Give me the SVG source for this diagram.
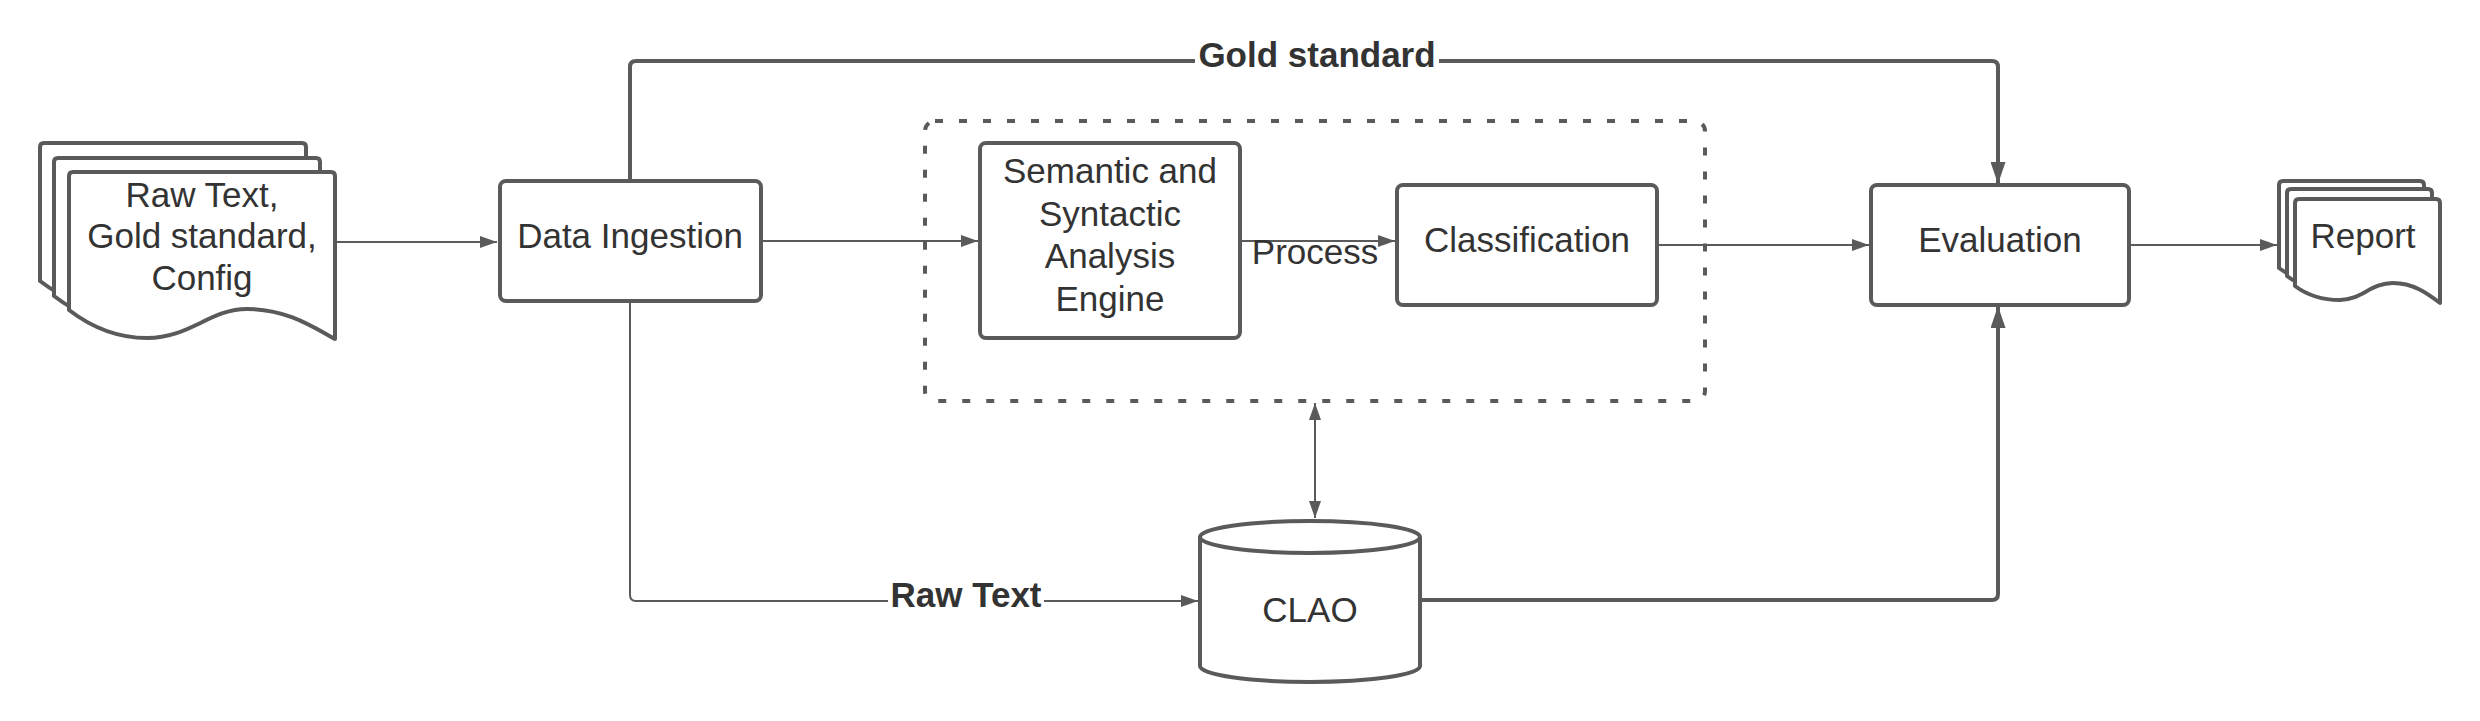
<svg xmlns="http://www.w3.org/2000/svg" width="2480" height="721" viewBox="0 0 2480 721">
<style>
.shape{fill:#ffffff;stroke:#5a5a5a;stroke-width:4;stroke-linejoin:round}
.dash{fill:none;stroke:#5a5a5a;stroke-width:4;stroke-dasharray:8 16}
.thin{fill:none;stroke:#5a5a5a;stroke-width:2}
.thick{fill:none;stroke:#5a5a5a;stroke-width:4}
.t{font-family:"Liberation Sans",Arial,sans-serif;font-size:35px;fill:#333333;text-anchor:middle}
.b{font-weight:bold}
</style>
<defs>
<marker id="ah" markerUnits="userSpaceOnUse" markerWidth="17" markerHeight="12" refX="17" refY="6" orient="auto-start-reverse">
<path d="M0,0 L17,6 L0,12 z" fill="#5a5a5a"/>
</marker>
<marker id="ahb" markerUnits="userSpaceOnUse" markerWidth="22" markerHeight="15" refX="22" refY="7.5" orient="auto">
<path d="M0,0 L22,7.5 L0,15 z" fill="#5a5a5a"/>
</marker>
<path id="doc" d="M0,4 Q0,0 4,0 H262 Q266,0 266,4 V167 C241,153 216,137 178,137 C141,137 121,166 78,166 C51,166 26,158 0,138 Z"/>
<path id="rdoc" d="M0,4 Q0,0 4,0 H141 Q145,0 145,4 V104 C132,94 118,84 98,84 C76,84 66,101 45,101 C27,101 12,96 0,87 Z"/>
</defs>

<g id="connectors">
<path class="thin" d="M335,242 H497" marker-end="url(#ah)"/>
<path class="thin" d="M761,241 H978" marker-end="url(#ah)"/>
<path class="thin" d="M1240,241 H1395" marker-end="url(#ah)"/>
<path class="thin" d="M1657,245 H1869" marker-end="url(#ah)"/>
<path class="thin" d="M2129,245 H2277" marker-end="url(#ah)"/>
<path class="thick" d="M630,181 V67 Q630,61 636,61 H1992 Q1998,61 1998,67 V184" marker-end="url(#ahb)"/>
<path class="thin" d="M630,301 V595 Q630,601 636,601 H1198" marker-end="url(#ah)"/>
<path class="thin" d="M1315,403 V518" marker-start="url(#ah)" marker-end="url(#ah)"/>
<path class="thick" d="M1420,600 H1992 Q1998,600 1998,594 V306" marker-end="url(#ahb)"/>
<rect x="1195" y="38" width="244" height="36" fill="#ffffff"/>
<text class="t b" x="1317" y="67">Gold standard</text>
<rect x="888" y="580" width="156" height="36" fill="#ffffff"/>
<text class="t b" x="966" y="607">Raw Text</text>
<text class="t" x="1315" y="264">Process</text>
</g>

<g id="input-docs">
<use href="#doc" class="shape" transform="translate(40,143)"/>
<use href="#doc" class="shape" transform="translate(54,158)"/>
<use href="#doc" class="shape" transform="translate(69,172)"/>
<text class="t" x="202" y="207">Raw Text,</text>
<text class="t" x="202" y="248">Gold standard,</text>
<text class="t" x="202" y="290">Config</text>
</g>

<g id="data-ingestion">
<rect class="shape" x="500" y="181" width="261" height="120" rx="6"/>
<text class="t" x="630" y="248">Data Ingestion</text>
</g>

<g id="process-group">
<rect class="dash" x="925" y="121" width="780" height="280" rx="10"/>
</g>

<g id="semantic-engine">
<rect class="shape" x="980" y="143" width="260" height="195" rx="6"/>
<text class="t" x="1110" y="183">Semantic and</text>
<text class="t" x="1110" y="226">Syntactic</text>
<text class="t" x="1110" y="268">Analysis</text>
<text class="t" x="1110" y="311">Engine</text>
</g>

<g id="classification">
<rect class="shape" x="1397" y="185" width="260" height="120" rx="6"/>
<text class="t" x="1527" y="252">Classification</text>
</g>

<g id="evaluation">
<rect class="shape" x="1871" y="185" width="258" height="120" rx="6"/>
<text class="t" x="2000" y="252">Evaluation</text>
</g>

<g id="report">
<use href="#rdoc" class="shape" transform="translate(2279,181)"/>
<use href="#rdoc" class="shape" transform="translate(2287,189)"/>
<use href="#rdoc" class="shape" transform="translate(2295,199)"/>
<text class="t" x="2363" y="248">Report</text>
</g>

<g id="clao">
<path class="shape" d="M1200,537 V666 A110,16 0 0 0 1420,666 V537 A110,16 0 0 0 1200,537 Z"/>
<path class="shape" fill="none" d="M1200,537 A110,16 0 0 0 1420,537"/>
<text class="t" x="1310" y="622">CLAO</text>
</g>
</svg>
